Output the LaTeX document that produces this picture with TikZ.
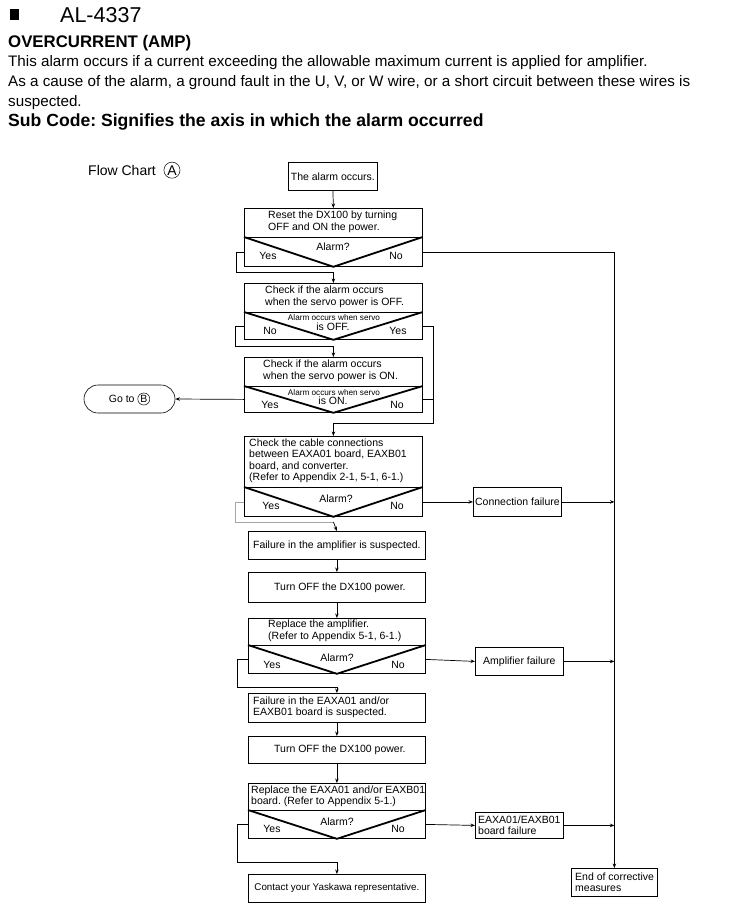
\documentclass[tikz,border=0pt]{standalone}
\usepackage{fontspec}
\setmainfont{Liberation Sans}
\usetikzlibrary{arrows.meta}
\frenchspacing
\newcommand{\circled}[1]{\tikz[baseline=(c.base)]\node[draw,circle,inner sep=0.6pt,minimum size=1.15em,line width=0.5pt](c){#1};}
\begin{document}
\begin{tikzpicture}[x=1pt,y=-1pt,
 box/.style={draw, line width=0.8pt, inner sep=0pt, anchor=north west},
 txt/.style={font=\fontsize{10.5}{11.5}\selectfont, align=left, inner sep=0pt, anchor=west},
 ctxt/.style={font=\fontsize{10.5}{11.5}\selectfont, inner sep=0pt},
 small/.style={font=\fontsize{8.2}{9}\selectfont, inner sep=0pt},
 vee/.style={line width=1.8pt, line join=miter},
 conn/.style={line width=0.7pt},
 arr/.style={conn, -{Stealth[length=4.5pt,width=3.5pt]}},
 head/.style={anchor=base west, inner sep=0pt, font=\fontsize{15.2}{17}\selectfont},
]
\useasboundingbox (0,0) rectangle (738,910);
% header
\fill (10,9) rectangle (19,20);
\node[anchor=base west, inner sep=0pt, font=\fontsize{21.5}{24}\selectfont] (ttl) at (60,22) {AL-4337};
\node[head, font=\fontsize{16.8}{18}\bfseries] (h0) at (8,47) {OVERCURRENT (AMP)};
\node[head] (h1) at (8,66) {This alarm occurs if a current exceeding the allowable maximum current is applied for amplifier.};
\node[head] (h2) at (8,86) {As a cause of the alarm, a ground fault in the U, V, or W wire, or a short circuit between these wires is};
\node[head] (h3) at (8,106) {suspected.};
\node[head, font=\fontsize{17.6}{18}\bfseries] (h4) at (8,126) {Sub Code: Signifies the axis in which the alarm occurred};
\node[anchor=base west, inner sep=0pt, font=\fontsize{14}{16}\selectfont] (fc) at (88,175) {Flow Chart~~\circled{A}};

% boxes
\node[box, minimum width=89pt, minimum height=28pt] (b0) at (288,162) {};
\node[ctxt] (t0) at (b0.center) {The alarm occurs.};

\node[box, minimum width=178pt, minimum height=29pt] (p1) at (244,208) {};
\node[box, minimum width=178pt, minimum height=29pt] (d1) at (244,237) {};
\node[txt] (t1) at (268,222) {Reset the DX100 by turning\\OFF and ON the power.};

\node[box, minimum width=178pt, minimum height=29pt] (p2) at (244,283) {};
\node[box, minimum width=178pt, minimum height=27pt] (d2) at (244,312) {};
\node[txt] (t2) at (265,297) {Check if the alarm occurs\\when the servo power is OFF.};

\node[box, minimum width=178pt, minimum height=29pt] (p3) at (244,357) {};
\node[box, minimum width=178pt, minimum height=26pt] (d3) at (244,386) {};
\node[txt] (t3) at (263,371) {Check if the alarm occurs\\when the servo power is ON.};

\node[box, minimum width=178pt, minimum height=51pt] (p4) at (244,436) {};
\node[box, minimum width=178pt, minimum height=29pt] (d4) at (244,487) {};
\node[txt] (t4) at (249,461) {Check the cable connections\\between EAXA01 board, EAXB01\\board, and converter.\\(Refer to Appendix 2-1, 5-1, 6-1.)};

\node[box, minimum width=177pt, minimum height=28pt] (p5) at (248,531) {};
\node[ctxt] (t5) at (p5.center) {Failure in the amplifier is suspected.};

\node[box, minimum width=177pt, minimum height=30pt] (p6) at (248,572) {};
\node[ctxt] (t6) at ([xshift=3pt]p6.center) {Turn OFF the DX100 power.};

\node[box, minimum width=177pt, minimum height=27pt] (p7) at (248,618) {};
\node[box, minimum width=177pt, minimum height=28pt] (d7) at (248,645) {};
\node[txt] (t7) at (268,631) {Replace the amplifier.\\(Refer to Appendix 5-1, 6-1.)};

\node[box, minimum width=177pt, minimum height=29pt] (p8) at (248,693) {};
\node[txt] (t8) at (253,707.5) {Failure in the EAXA01 and/or\\EAXB01 board is suspected.};

\node[box, minimum width=177pt, minimum height=27pt] (p9) at (248,736) {};
\node[ctxt] (t9) at ([xshift=3pt]p9.center) {Turn OFF the DX100 power.};

\node[box, minimum width=177pt, minimum height=27pt] (p10) at (248,783) {};
\node[box, minimum width=177pt, minimum height=28pt] (d10) at (248,810) {};
\node[txt] (t10) at (251,796.5) {Replace the EAXA01 and/or EAXB01\\board. (Refer to Appendix 5-1.)};

\node[box, minimum width=177pt, minimum height=28pt] (p11) at (248,874) {};
\node[ctxt, font=\fontsize{9.8}{11}\selectfont] (t11) at (p11.center) {Contact your Yaskawa representative.};

% side boxes
\node[box, minimum width=88pt, minimum height=29pt] (cf) at (473,487) {};
\node[ctxt] (tcf) at (cf.center) {Connection failure};
\node[box, minimum width=88pt, minimum height=28pt] (af) at (475,647) {};
\node[ctxt] (taf) at (af.center) {Amplifier failure};
\node[box, minimum width=88pt, minimum height=26pt] (eb) at (475,812) {};
\node[txt] (teb) at (478,825) {EAXA01/EAXB01\\board failure};
\node[box, minimum width=86pt, minimum height=28pt] (ee) at (571,868) {};
\node[txt] (tee) at (575,882) {End of corrective\\measures};

\node[draw, line width=0.6pt, rounded corners=14pt, minimum width=91pt, minimum height=28pt, inner sep=0pt] (gb) at (129.5,399) {};
\node[ctxt] (tgb) at (gb.center) {Go to~\circled{B}};

% decision vees
\foreach \d in {d1,d2,d3,d4,d7,d10}{
  \draw[vee] (\d.north west) -- (\d.south) -- (\d.north east);
}
% decision labels
\node[ctxt] (a1) at (333,247) {Alarm?};
\node[ctxt] (y1) at (268,256) {Yes};
\node[ctxt] (n1) at (396,256) {No};
\node[small] (a2) at (334,318) {Alarm occurs when servo};
\node[ctxt] (a2b) at (333,327) {is OFF.};
\node[ctxt] (n2) at (270,331) {No};
\node[ctxt] (y2) at (398,331) {Yes};
\node[small] (a3) at (334,393) {Alarm occurs when servo};
\node[ctxt] (a3b) at (333,401) {is ON.};
\node[ctxt] (y3) at (270,405) {Yes};
\node[ctxt] (n3) at (397,405) {No};
\node[ctxt] (a4) at (336,499) {Alarm?};
\node[ctxt] (y4) at (271,506) {Yes};
\node[ctxt] (n4) at (397,506) {No};
\node[ctxt] (a7) at (337,658) {Alarm?};
\node[ctxt] (y7) at (272,665) {Yes};
\node[ctxt] (n7) at (398,665) {No};
\node[ctxt] (a10) at (337,822) {Alarm?};
\node[ctxt] (y10) at (272,829) {Yes};
\node[ctxt] (n10) at (398,829) {No};

% connectors
\draw[arr] (b0.south) -- (p1.north);
\draw[arr] (d1.west) -- ++(-8,0) -- ++(0,20.5) -| (p2.north);
\draw[arr] (d1.east) -| (ee.north);
\draw[arr] (d2.west) -- ++(-9,0) -- ++(0,20.5) -| (p3.north);
\coordinate (j) at (433,423);
\draw[arr] (d2.east) -| (j) -| (p4.north);
\draw[conn] (d3.east) -- (d3.east -| j);
\draw[arr] (d3.west) -- (gb.east);
\coordinate (g4) at (p4.north |- 0,522);
\draw[conn, gray!70] (d4.west) -- ++(-9,0) -- ++(0,20.5) -| (g4);
\draw[arr] (g4) -- (p5.north);
\draw[arr] (d4.east) -- (cf.west);
\draw[arr] (cf.east) -- (cf.east -| ee.north);
\draw[arr] (p5.south) -- (p6.north);
\draw[arr] (p6.south) -- (p7.north);
\draw[arr] (d7.west) -- ++(-11,0) -- ++(0,28) -| (p8.north);
\draw[arr] (d7.east) -- (af.west);
\draw[arr] (af.east) -- (af.east -| ee.north);
\draw[arr] (p8.south) -- (p9.north);
\draw[arr] (p9.south) -- (p10.north);
\draw[arr] (d10.west) -- ++(-11,0) -- ++(0,38) -| (p11.north);
\draw[arr] (d10.east) -- (eb.west);
\draw[arr] (eb.east) -- (eb.east -| ee.north);
\end{tikzpicture}
\end{document}
